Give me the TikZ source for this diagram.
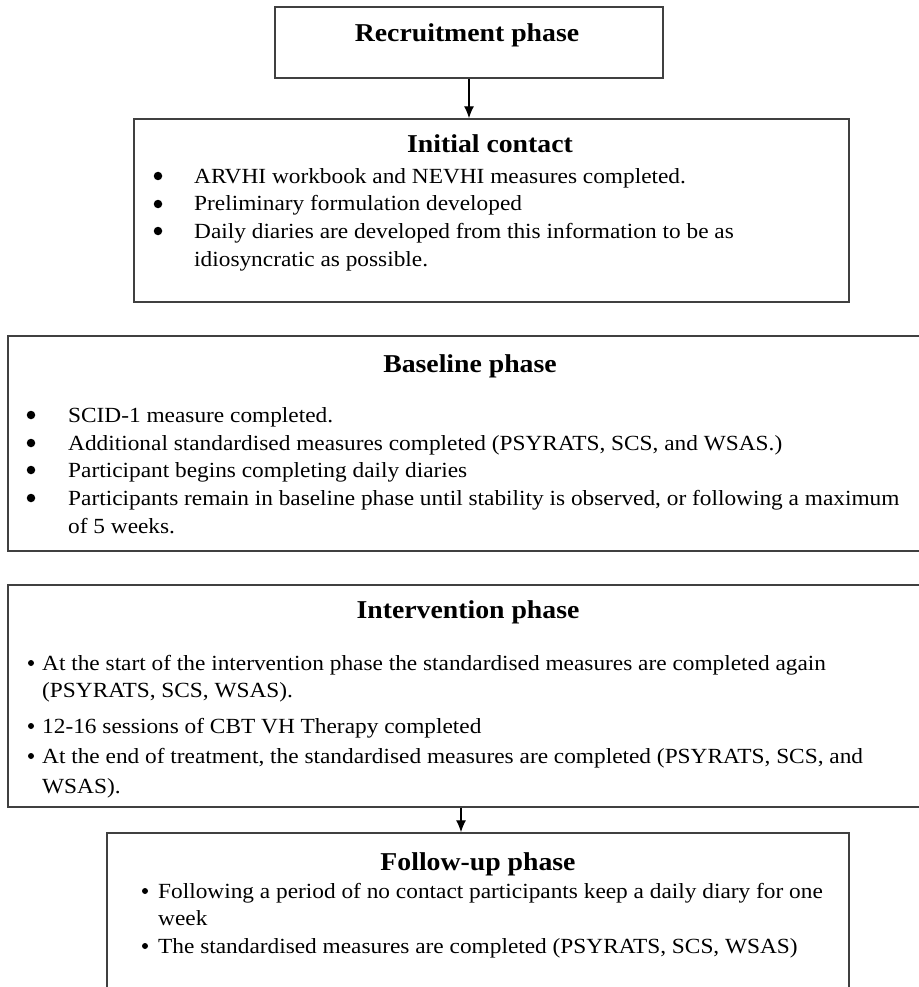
\documentclass[tikz,border=0pt]{standalone}
\usepackage{fontspec}
\setmainfont{Liberation Serif}[FakeStretch=1.08]
\usepackage{tikz}
\usetikzlibrary{arrows.meta}

\begin{document}
\begin{tikzpicture}[x=1pt,y=-1pt]
				\tikzstyle{box}=[rectangle, draw=black!75, line width=1.4pt, inner sep=0pt]
				\tikzstyle{ttl}=[font=\fontsize{25.7}{30}\selectfont\bfseries, anchor=base, inner sep=0pt]
				\tikzstyle{txt}=[font=\fontsize{21.6}{26}\selectfont, anchor=base west, inner sep=0pt]
				\tikzstyle{bul}=[circle, fill=black, inner sep=0pt, minimum size=6pt]
				\tikzstyle{bigbul}=[bul, minimum size=8.5pt]
				\tikzstyle{arr}=[-{Latex[length=12pt,width=10pt]}, line width=1.3pt]

				\useasboundingbox (0,0) rectangle (918,987);

				% boxes
				\node[box, minimum width=388pt, minimum height=71pt] (recruit) at (469,42.5) {};
				\node[box, minimum width=715pt, minimum height=183pt] (initial) at (491.5,210.5) {};
				\node[box, minimum width=932pt, minimum height=215pt] (baseline) at (474,443.5) {};
				\node[box, minimum width=932pt, minimum height=222pt] (interv) at (474,696) {};
				\node[box, minimum width=742pt, minimum height=177pt] (follow) at (478,921.5) {};

				% titles
				\node[ttl] (recruitT) at (467,42) {Recruitment phase};
				\node[ttl] (initialT) at (490,153) {Initial contact};
				\node[ttl] (baselineT) at (470,372) {Baseline phase};
				\node[ttl] (intervT) at (468,618) {Intervention phase};
				\node[ttl] (followT) at (478,870) {Follow-up phase};

				% initial contact
				\foreach \y/\t [count=\i] in {183/{ARVHI workbook and NEVHI measures completed.},
					211/{Preliminary formulation developed},
					238/{Daily diaries are developed from this information to be as},
					266/{idiosyncratic as possible.}}
				\node[txt] (ini\i) at (194,\y) {\t};
				\foreach \y [count=\i] in {183,211,238}
				\node[bigbul] (inib\i) at (158,\y-7) {};

				% baseline phase
				\foreach \y/\t [count=\i] in {422/{SCID-1 measure completed.},
					450/{Additional standardised measures completed (PSYRATS, SCS, and WSAS.)},
					477/{Participant begins completing daily diaries},
					505/{Participants remain in baseline phase until stability is observed, or following a maximum},
					533/{of 5 weeks.}}
				\node[txt] (bas\i) at (68,\y) {\t};
				\foreach \y [count=\i] in {422,450,477,505}
				\node[bigbul] (basb\i) at (31,\y-7) {};

				% intervention phase
				\foreach \y/\t [count=\i] in {670/{At the start of the intervention phase the standardised measures are completed again},
					697/{(PSYRATS, SCS, WSAS).},
					733/{12-16 sessions of CBT VH Therapy completed},
					763/{At the end of treatment, the standardised measures are completed (PSYRATS, SCS, and},
					793/{WSAS).}}
				\node[txt] (int\i) at (42,\y) {\t};
				\foreach \y [count=\i] in {670,733,763}
				\node[bul] (intb\i) at (31,\y-7) {};

				% follow-up phase
				\foreach \y/\t [count=\i] in {898/{Following a period of no contact participants keep a daily diary for one},
					925/{week},
					953/{The standardised measures are completed (PSYRATS, SCS, WSAS)}}
				\node[txt] (fol\i) at (158,\y) {\t};
				\foreach \y [count=\i] in {898,953}
				\node[bul] (folb\i) at (145,\y-7) {};

				\coordinate (split) at (461,0);
				\draw[arr] (recruit.south) -- (recruit.south |- initial.north);
				\draw[arr] (interv.south -| split) -- (follow.north -| split);
			\end{tikzpicture}
\end{document}
